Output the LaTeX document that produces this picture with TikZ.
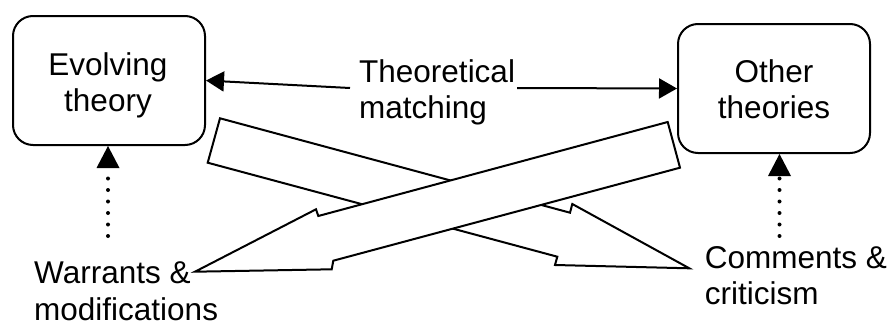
\documentclass[tikz,border=0pt]{standalone}
\usepackage{fontspec}
\setmainfont{Liberation Sans}
\usetikzlibrary{arrows.meta,calc}
\begin{document}
\begin{tikzpicture}[x=1pt,y=-1pt,
  txt/.style={inner sep=0pt,font=\fontsize{31.5}{36.5}\selectfont},
  boxshape/.style={draw,line width=2pt,rounded corners=20pt,minimum width=192pt,minimum height=129pt,inner sep=0pt},
  conn/.style={line width=2pt,-{Triangle[length=18pt,width=20pt]}},
  dotconn/.style={line width=4pt,line cap=round,dash pattern=on 0pt off 11.5pt,-{Triangle[length=22pt,width=23pt,line width=0pt]}},
  blk/.style={draw,fill=white,line width=2pt,line join=miter}]
\useasboundingbox (0,0) rectangle (891,324);
% boxes
\node[boxshape] (evo) at (109,80.5) {};
\node[boxshape] (oth) at (774,88.5) {};
\node[txt,align=center,anchor=base] (evot) at (108,111.5) {Evolving\\theory};
\node[txt,align=center,anchor=base] (otht) at (774,118.5) {Other\\theories};
% labels
\node[txt,align=left,anchor=base west] (tm) at (359,118.5) {Theoretical\\matching};
\node[txt,align=left,anchor=base west] (wm) at (34,320) {Warrants \&\\modifications};
\node[txt,align=left,anchor=base west] (cc) at (704.7,304.8) {Comments \&\\criticism};
% connector end points
\coordinate (tmL) at (350,88);
\coordinate (tmR) at (517,88);
\coordinate (wdot) at (108,236);
\coordinate (cdot) at (779.5,236);
\draw[conn] (tmL) -- (evo.east);
\draw[conn] (tmR) -- (oth.west);
\draw[dotconn] (wdot) -- (wdot |- evo.south);
\draw[dotconn] (cdot) -- (cdot |- oth.south);
% block arrows
\draw[blk] (220,118.3) -- (570,212.7) -- (572.3,204) -- (689.3,268.3) -- (555,265) -- (557.3,256.7) -- (207.7,162.7) -- cycle;
\draw[blk] (667.7,122) -- (318.3,216) -- (316,209.3) -- (195,271.7) -- (331.7,269.3) -- (333.3,260.7) -- (680,167.7) -- cycle;
\end{tikzpicture}
\end{document}
